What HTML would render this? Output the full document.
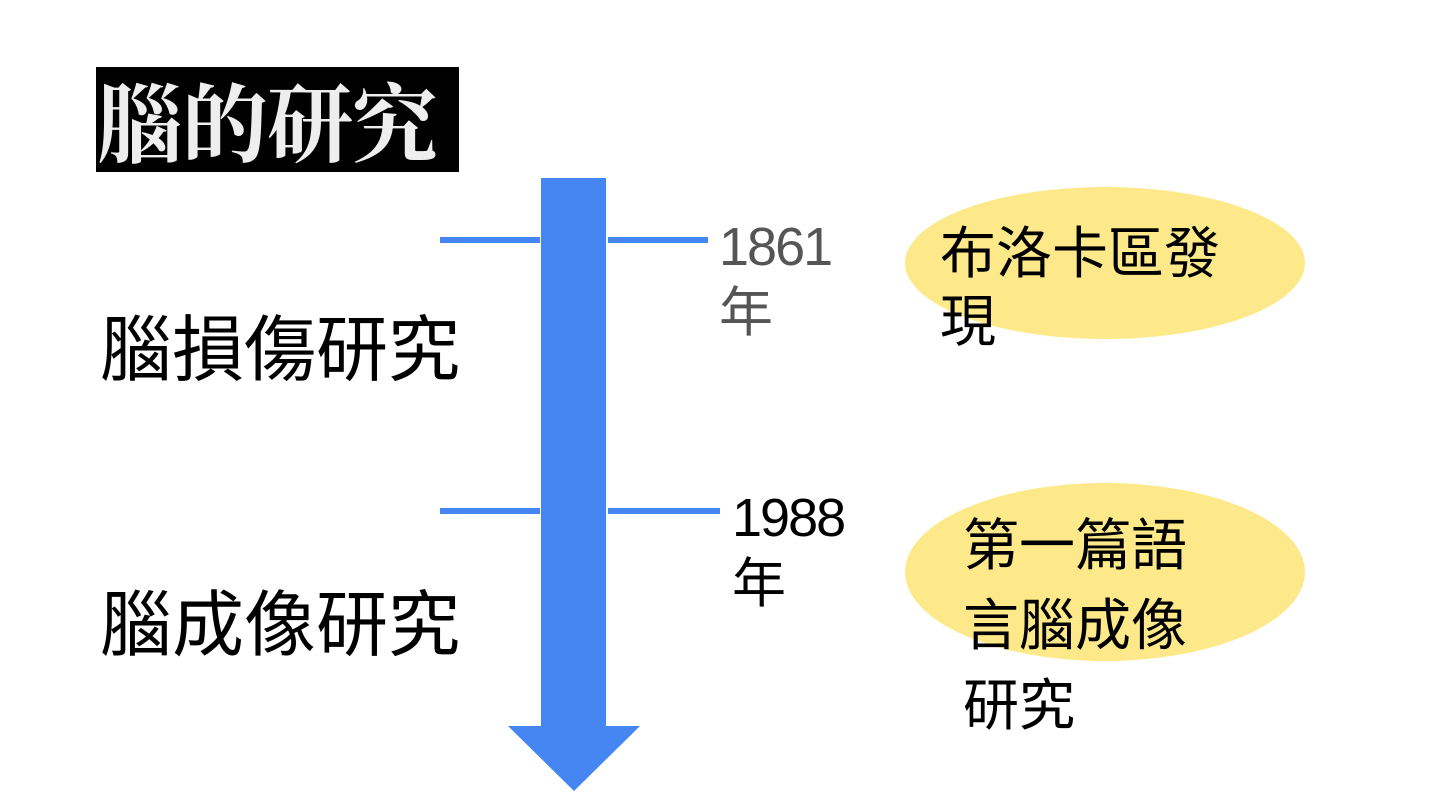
<!DOCTYPE html>
<html><head><meta charset="utf-8"><style>
body{margin:0;width:1440px;height:810px;background:#fff;position:relative;overflow:hidden;font-family:"Liberation Sans","Noto Sans CJK TC",sans-serif}
.a{position:absolute;white-space:nowrap}
</style></head><body>
<div class="a" style="left:96px;top:67px;width:363px;height:105px;background:#000"></div>
<div class="a" style="left:97px;top:68px;font-family:'Noto Serif CJK SC',serif;font-weight:700;font-size:86px;line-height:100px;color:#eee;letter-spacing:-1px">腦的研究</div>
<svg class="a" style="left:0;top:0" width="1440" height="810">
<rect x="440" y="237" width="100" height="6" fill="#4586f2"/>
<rect x="608" y="237" width="100" height="6" fill="#4586f2"/>
<rect x="440" y="508" width="100" height="6" fill="#4586f2"/>
<rect x="608" y="508" width="112" height="6" fill="#4586f2"/>
<polygon points="541,178 606,178 606,726 640,726 574,791 508,726 541,726" fill="#4586f2"/>
<ellipse cx="1105" cy="263" rx="200" ry="76" fill="#fde98a"/>
<ellipse cx="1105" cy="572" rx="200" ry="89" fill="#fde98a"/>
</svg>
<div class="a" style="left:100px;top:308px;font-size:72px;line-height:86px;color:#000">腦損傷研究</div>
<div class="a" style="left:100px;top:583px;font-size:72px;line-height:86px;color:#000">腦成像研究</div>
<div class="a" style="left:719px;top:214px;font-size:54px;line-height:66px;color:#555;letter-spacing:-2px">1861<br>年</div>
<div class="a" style="left:732px;top:485px;font-size:54px;line-height:66px;color:#000;letter-spacing:-2px">1988<br>年</div>
<div class="a" style="left:940px;top:220px;font-size:56px;line-height:68px;color:#000">布洛卡區發<br>現</div>
<div class="a" style="left:963px;top:506px;font-size:56px;line-height:80px;color:#000">第一篇語<br>言腦成像<br>研究</div>
</body></html>
